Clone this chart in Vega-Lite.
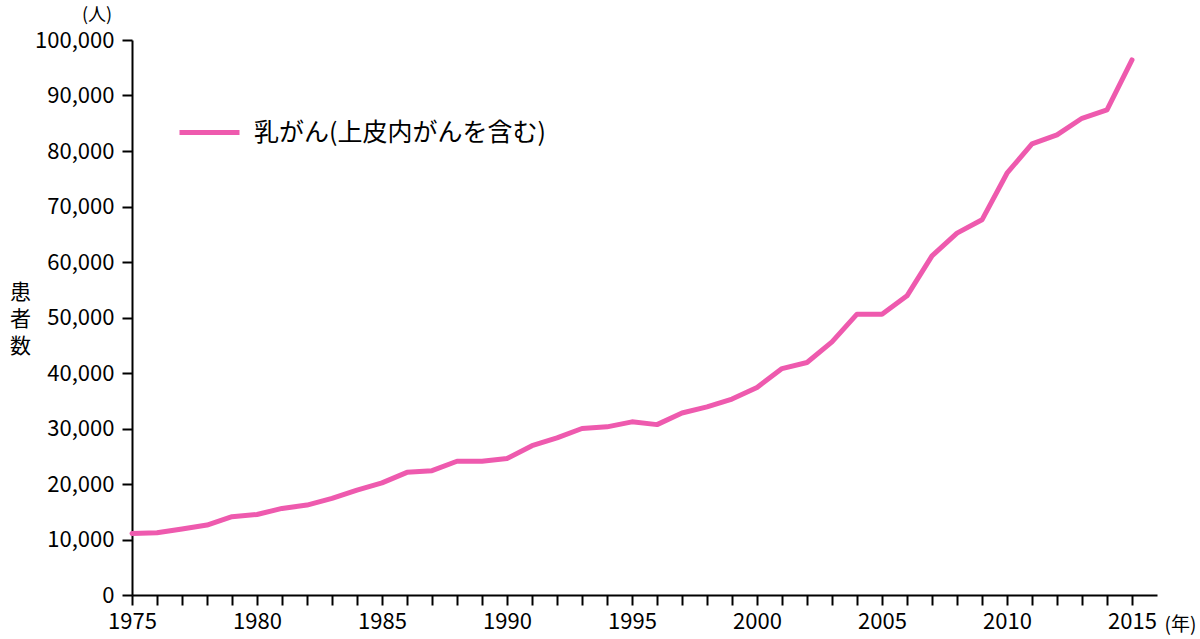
{
  "$schema": "https://vega.github.io/schema/vega-lite/v6.json",
  "autosize": {"type": "none"},
  "padding": {"left": 132, "top": 40, "right": 43, "bottom": 44},
  "width": 1025,
  "height": 555,
  "background": "white",
  "title": {
    "text": "(人)",
    "anchor": "start",
    "frame": "group",
    "dx": -50,
    "dy": 2,
    "offset": 6,
    "fontSize": 18,
    "fontWeight": "normal",
    "font": "Noto Sans CJK JP",
    "color": "black"
  },
  "config": {
    "view": {"stroke": null},
    "font": "Noto Sans CJK JP",
    "axis": {
      "grid": false,
      "domainColor": "black",
      "domainWidth": 2,
      "tickColor": "black",
      "tickWidth": 2,
      "tickSize": 10,
      "labelColor": "black",
      "labelFont": "Noto Sans CJK JP",
      "titleFont": "Noto Sans CJK JP",
      "titleColor": "black",
      "titleFontWeight": "normal"
    }
  },
  "data": {
    "values": [
      {"year": 1975, "patients": 11100, "series": "乳がん(上皮内がんを含む)"},
      {"year": 1976, "patients": 11200, "series": "乳がん(上皮内がんを含む)"},
      {"year": 1977, "patients": 11900, "series": "乳がん(上皮内がんを含む)"},
      {"year": 1978, "patients": 12600, "series": "乳がん(上皮内がんを含む)"},
      {"year": 1979, "patients": 14100, "series": "乳がん(上皮内がんを含む)"},
      {"year": 1980, "patients": 14500, "series": "乳がん(上皮内がんを含む)"},
      {"year": 1981, "patients": 15600, "series": "乳がん(上皮内がんを含む)"},
      {"year": 1982, "patients": 16200, "series": "乳がん(上皮内がんを含む)"},
      {"year": 1983, "patients": 17400, "series": "乳がん(上皮内がんを含む)"},
      {"year": 1984, "patients": 18900, "series": "乳がん(上皮内がんを含む)"},
      {"year": 1985, "patients": 20200, "series": "乳がん(上皮内がんを含む)"},
      {"year": 1986, "patients": 22100, "series": "乳がん(上皮内がんを含む)"},
      {"year": 1987, "patients": 22400, "series": "乳がん(上皮内がんを含む)"},
      {"year": 1988, "patients": 24100, "series": "乳がん(上皮内がんを含む)"},
      {"year": 1989, "patients": 24100, "series": "乳がん(上皮内がんを含む)"},
      {"year": 1990, "patients": 24600, "series": "乳がん(上皮内がんを含む)"},
      {"year": 1991, "patients": 26900, "series": "乳がん(上皮内がんを含む)"},
      {"year": 1992, "patients": 28300, "series": "乳がん(上皮内がんを含む)"},
      {"year": 1993, "patients": 30000, "series": "乳がん(上皮内がんを含む)"},
      {"year": 1994, "patients": 30300, "series": "乳がん(上皮内がんを含む)"},
      {"year": 1995, "patients": 31200, "series": "乳がん(上皮内がんを含む)"},
      {"year": 1996, "patients": 30700, "series": "乳がん(上皮内がんを含む)"},
      {"year": 1997, "patients": 32800, "series": "乳がん(上皮内がんを含む)"},
      {"year": 1998, "patients": 33900, "series": "乳がん(上皮内がんを含む)"},
      {"year": 1999, "patients": 35300, "series": "乳がん(上皮内がんを含む)"},
      {"year": 2000, "patients": 37400, "series": "乳がん(上皮内がんを含む)"},
      {"year": 2001, "patients": 40800, "series": "乳がん(上皮内がんを含む)"},
      {"year": 2002, "patients": 41900, "series": "乳がん(上皮内がんを含む)"},
      {"year": 2003, "patients": 45600, "series": "乳がん(上皮内がんを含む)"},
      {"year": 2004, "patients": 50600, "series": "乳がん(上皮内がんを含む)"},
      {"year": 2005, "patients": 50600, "series": "乳がん(上皮内がんを含む)"},
      {"year": 2006, "patients": 53900, "series": "乳がん(上皮内がんを含む)"},
      {"year": 2007, "patients": 61100, "series": "乳がん(上皮内がんを含む)"},
      {"year": 2008, "patients": 65200, "series": "乳がん(上皮内がんを含む)"},
      {"year": 2009, "patients": 67600, "series": "乳がん(上皮内がんを含む)"},
      {"year": 2010, "patients": 76000, "series": "乳がん(上皮内がんを含む)"},
      {"year": 2011, "patients": 81300, "series": "乳がん(上皮内がんを含む)"},
      {"year": 2012, "patients": 82900, "series": "乳がん(上皮内がんを含む)"},
      {"year": 2013, "patients": 85900, "series": "乳がん(上皮内がんを含む)"},
      {"year": 2014, "patients": 87400, "series": "乳がん(上皮内がんを含む)"},
      {"year": 2015, "patients": 96400, "series": "乳がん(上皮内がんを含む)"}
    ]
  },
  "mark": {"type": "line", "strokeWidth": 5, "strokeJoin": "round", "strokeCap": "round"},
  "encoding": {
    "x": {
      "field": "year",
      "type": "quantitative",
      "scale": {"domain": [1975, 2016], "nice": false, "zero": false},
      "axis": {
        "values": [1975, 1976, 1977, 1978, 1979, 1980, 1981, 1982, 1983, 1984, 1985, 1986, 1987, 1988, 1989, 1990, 1991, 1992, 1993, 1994, 1995, 1996, 1997, 1998, 1999, 2000, 2001, 2002, 2003, 2004, 2005, 2006, 2007, 2008, 2009, 2010, 2011, 2012, 2013, 2014, 2015],
        "labelExpr": "datum.value % 5 == 0 ? datum.value : ''",
        "labelOverlap": false,
        "labelFlush": false,
        "labelFontSize": 22,
        "labelPadding": 6,
        "title": "(年)",
        "titleFontSize": 19,
        "titleX": 1048,
        "titleY": 29,
        "titleAlign": "center",
        "titleBaseline": "middle"
      }
    },
    "y": {
      "field": "patients",
      "type": "quantitative",
      "scale": {"domain": [0, 100000], "nice": false},
      "axis": {
        "values": [0, 10000, 20000, 30000, 40000, 50000, 60000, 70000, 80000, 90000, 100000],
        "format": ",d",
        "labelFontSize": 22,
        "labelPadding": 8,
        "title": ["患", "者", "数"],
        "titleAngle": 0,
        "titleFontSize": 21,
        "titleLineHeight": 27,
        "titleX": -112,
        "titleY": 241,
        "titleAlign": "center",
        "titleBaseline": "top"
      }
    },
    "color": {
      "field": "series",
      "type": "nominal",
      "scale": {"range": ["#ee5aae"]},
      "legend": {
        "title": null,
        "orient": "none",
        "legendX": 45,
        "legendY": 60,
        "padding": 0,
        "symbolType": "stroke",
        "symbolSize": 3600,
        "symbolStrokeWidth": 5,
        "labelFontSize": 25,
        "labelLimit": 0,
        "labelColor": "black",
        "labelOffset": 12,
        "labelFont": "Noto Sans CJK JP"
      }
    }
  }
}
